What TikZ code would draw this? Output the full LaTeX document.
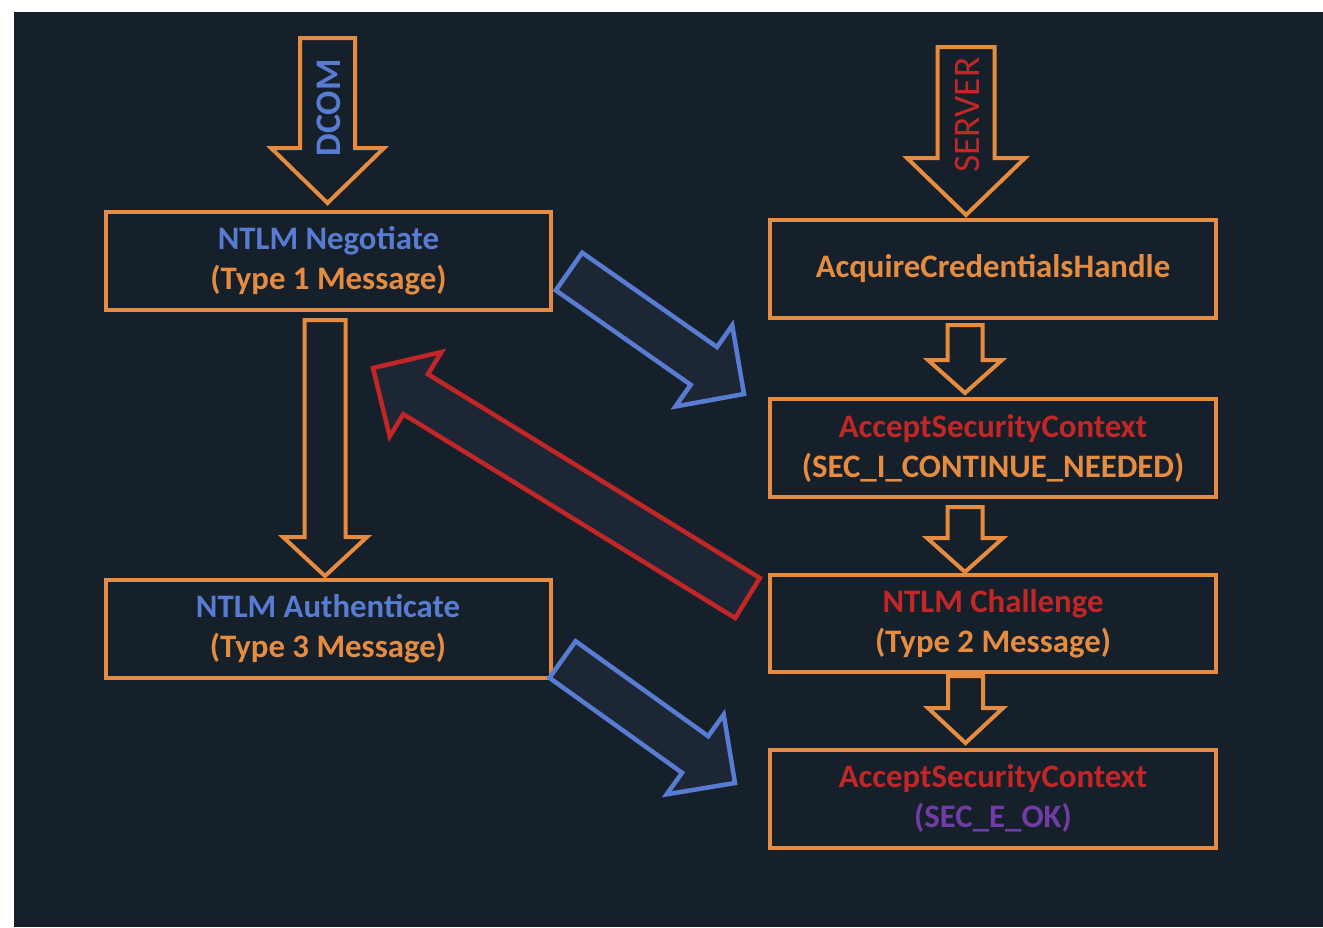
\documentclass[tikz,border=0pt]{standalone}
\usepackage{fontspec}
\setmainfont{Carlito}
\usetikzlibrary{calc}
\definecolor{bg}{RGB}{22,32,42}
\definecolor{afill}{RGB}{28,38,52}
\definecolor{org}{RGB}{230,140,65}
\definecolor{blu}{RGB}{88,124,210}
\definecolor{rd}{RGB}{195,38,38}
\definecolor{pur}{RGB}{112,60,165}
% #1 style, #2 tail coordinate, #3 tip coordinate, #4 shaft width, #5 head width, #6 head length
\newcommand\fatarrow[6][]{%
  \draw[#1] let \p1=(#2), \p2=(#3),
    \n1={atan2(\y2-\y1,\x2-\x1)}, \n2={veclen(\x2-\x1,\y2-\y1)} in
    [shift={(\p1)}, rotate=\n1]
    (0pt,{#4/2}) -- ({\n2-#6},{#4/2}) -- ({\n2-#6},{#5/2}) -- (\n2,0pt)
    -- ({\n2-#6},{-#5/2}) -- ({\n2-#6},{-#4/2}) -- (0pt,{-#4/2}) -- cycle;}
\tikzset{
  box/.style={draw=org, line width=4pt, fill=bg, minimum width=445pt, minimum height=98pt,
    inner sep=0pt, align=center, text=org, font=\fontsize{32.8}{40}\selectfont\bfseries},
  orgarrow/.style={draw=org, line width=4pt, fill=bg},
  bluarrow/.style={draw=blu, line width=4.5pt, fill=afill},
  rdarrow/.style={draw=rd, line width=4.5pt, fill=afill},
  vlabel/.style={rotate=90, inner sep=0pt, font=\fontsize{36}{40}\selectfont}
}
\begin{document}
\begin{tikzpicture}[x=1pt,y=-1pt]
\fill[white] (0,0) rectangle (1323,927);
\fill[bg] (14,12) rectangle (1323,927);
\useasboundingbox (0,0) rectangle (1323,927);

% boxes
\node[box] (B1) at (328.5,260.5) {\textcolor{blu}{NTLM Negotiate}\\(Type 1 Message)};
\node[box] (B3) at (328,628.5) {\textcolor{blu}{NTLM Authenticate}\\(Type 3 Message)};
\node[box, minimum width=446pt] (R1) at (993,268.5) {AcquireCredentialsHandle};
\node[box, minimum width=446pt] (R2) at (993,448) {\textcolor{rd}{AcceptSecurityContext}\\(SEC\_I\_CONTINUE\_NEEDED)};
\node[box, minimum width=446pt, minimum height=97pt] (R3) at (993,623.5) {\textcolor{rd}{NTLM Challenge}\\(Type 2 Message)};
\node[box, minimum width=446pt] (R4) at (993,798.5) {\textcolor{rd}{AcceptSecurityContext}\\\textcolor{pur}{(SEC\_E\_OK)}};

% arrow end points
\coordinate (dcomT) at (327.5,38);   \coordinate (dcomH) at (327.5,203);
\coordinate (srvT) at (966,47);      \coordinate (srvH) at (966,215);
\coordinate (lT) at (325,320);       \coordinate (lH) at (325,576);
\coordinate (s1T) at (965,325);      \coordinate (s1H) at (965,393);
\coordinate (s2T) at (965,507);      \coordinate (s2H) at (965,572);
\coordinate (s3T) at (965.5,676);    \coordinate (s3H) at (965.5,743);
\coordinate (b1T) at (569,271.5);    \coordinate (b1H) at (744,394);
\coordinate (b2T) at (562.5,659.5);  \coordinate (b2H) at (735,783);
\coordinate (rT) at (747.5,598);     \coordinate (rH) at (373,368);

% orange block arrows
\fatarrow[orgarrow]{dcomT}{dcomH}{55pt}{113pt}{55pt}
\fatarrow[orgarrow]{srvT}{srvH}{57pt}{118pt}{57pt}
\fatarrow[orgarrow]{lT}{lH}{41pt}{84pt}{39pt}
\fatarrow[orgarrow]{s1T}{s1H}{35pt}{74pt}{33pt}
\fatarrow[orgarrow]{s2T}{s2H}{35pt}{76pt}{34pt}
\fatarrow[orgarrow]{s3T}{s3H}{35pt}{75pt}{35pt}

% message arrows
\fatarrow[bluarrow]{b1T}{b1H}{46pt}{99pt}{49pt}
\fatarrow[bluarrow]{b2T}{b2H}{45pt}{98pt}{49pt}
\fatarrow[rdarrow]{rT}{rH}{47pt}{99pt}{50pt}

% labels inside arrows
\node[vlabel, text=blu, font=\fontsize{36}{40}\selectfont\bfseries] (dcom) at (329,108) {DCOM};
\node[vlabel, text=rd, font=\fontsize{37.5}{40}\selectfont] (srv) at (967,115) {SERVER};
\end{tikzpicture}
\end{document}
